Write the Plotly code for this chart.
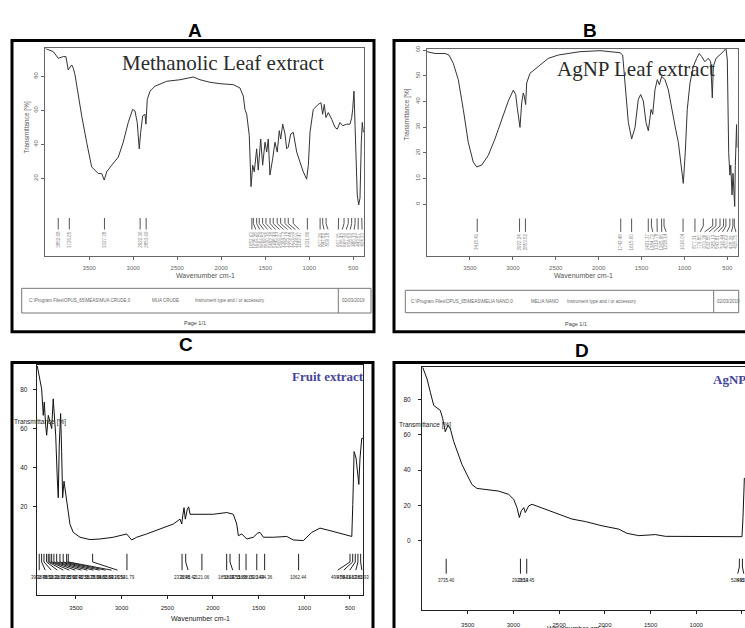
import plotly.graph_objects as go

W, H = 745, 628

# ---------------- data ----------------
a_wn = [4000, 3909, 3852, 3795, 3765, 3739, 3700, 3682, 3662, 3625, 3586, 3530, 3473, 3398, 3359, 3330, 3302, 3245,
        3170, 3114, 3057, 3007, 2981, 2955, 2932, 2916, 2893, 2867, 2856, 2841, 2810, 2753, 2620, 2469, 2318, 2242,
        2128, 2015, 1864, 1788, 1750, 1731, 1711, 1682, 1662, 1643, 1625, 1598, 1580, 1552, 1530, 1503, 1484, 1466,
        1447, 1416, 1390, 1364, 1341, 1325, 1302, 1276, 1257, 1239, 1211, 1182, 1143, 1106, 1068, 1030, 1011, 992,
        955, 898, 867, 848, 830, 811, 784, 746, 708, 682, 651, 620, 575, 538, 518, 507, 492, 480, 469, 455, 439, 424,
        409, 398, 386]
a_t = [96.4, 94.5, 90.6, 91.6, 91.6, 83.8, 86.7, 84.8, 80.9, 68.4, 56.8, 41.3, 26.8, 22.9, 22.9, 19.1, 23.9, 27.8,
       32.6, 41.3, 52.9, 60.6, 59.7, 52.9, 37.4, 47.1, 56.8, 57.7, 51.9, 66.4, 71.3, 74.2, 77.1, 78, 79.6, 78,
       76.5, 75.7, 75.1, 73.2, 68.4, 60.6, 57.7, 45.2, 15.2, 27.8, 23.9, 37.4, 24.9, 43.2, 27.8, 41.3, 35.5, 43.2,
       22, 31.6, 41.3, 35.5, 48.1, 43.2, 51.9, 46.1, 37.4, 38.4, 46.1, 47.1, 35.5, 29.7, 23.9, 19.6, 27.8, 47.1,
       60.6, 63.5, 64.5, 57.7, 63.5, 55.8, 58.7, 54.8, 50, 49, 52.9, 51, 51.9, 51.9, 55.8, 60.6, 71.3, 51, 31.6, 10.3,
       4.5, 8.4, 41.3, 52.9, 47.1]
a_peaks = [3852.68, 3726.65, 3327.38, 2922.36, 2853.69, 1652.63, 1635.28, 1597.89, 1568.52, 1530.36, 1492.18,
           1445.44, 1409.27, 1364.72, 1325.12, 1276.55, 1239.07, 1182.47, 1021.86, 877.26, 847.82, 809.18, 667.15,
           605.43, 557.26, 518.92, 480.13, 443.57, 404.33]

b_wn = [4000, 3908, 3791, 3745, 3695, 3636, 3578, 3520, 3462, 3422, 3364, 3287, 3209, 3130, 3053, 2995, 2967, 2949,
        2917, 2897, 2879, 2867, 2851, 2839, 2800, 2704, 2587, 2470, 2314, 2217, 1984, 1751, 1720, 1701, 1681, 1654,
        1615, 1576, 1538, 1510, 1479, 1448, 1421, 1401, 1389, 1370, 1343, 1316, 1292, 1265, 1227, 1188, 1149, 1110,
        1071, 1032, 1013, 990, 967, 935, 897, 857, 827, 799, 761, 722, 694, 675, 663, 632, 585, 547, 516, 500, 484,
        470, 460, 445, 434, 414, 407, 392, 386]
b_t = [59.4, 58.7, 58.7, 58.1, 54.9, 48.5, 36.9, 24.1, 16.4, 14.5, 15.2, 19, 25.4, 33.1, 40.2, 44.4, 42.7, 37.6,
       29.9, 39.5, 43.3, 42.1, 38.8, 47.2, 51, 53.6, 56.8, 58.1, 59, 59.4, 59.8, 59, 58.1, 51, 40.8, 31.8,
       25.4, 29.9, 40.8, 42.7, 40.2, 31.8, 28.6, 35.7, 36.9, 35, 44.6, 48.5, 46.5, 49.8, 48.5, 44.6, 36.9, 30.5,
       24.1, 13.8, 8.1, 20.3, 36.9, 47.2, 53.6, 56.8, 58.7, 57.5, 55.5, 56.8, 55.5, 41.4, 53.6, 56.8, 58.1, 59.4,
       60.7, 56.2, 20, 11.3, 15.2, 3.6, 12, -0.9, 15, 31, 22]
b_peaks = [3415.41, 2922.24, 2853.52, 1742.48, 1615.60, 1421.37, 1384.72, 1319.78, 1265.95, 1238.14, 1016.04,
           877.31, 779.80, 670.36, 632.55, 585.13, 543.81, 516.44, 470.62, 435.29, 418.75]

c_wn = [3924, 3902, 3876, 3858, 3847, 3832, 3821, 3803, 3785, 3766, 3749, 3738, 3722, 3705, 3694, 3683, 3668, 3657,
        3646, 3631, 3617, 3602, 3584, 3566, 3530, 3456, 3347, 3237, 3091, 2945, 2890, 2835, 2726, 2580, 2434, 2361,
        2342, 2331, 2317, 2303, 2281, 2266, 2251, 2142, 1996, 1849, 1777, 1740, 1722, 1685, 1630, 1558, 1514, 1485,
        1448, 1339, 1192, 1120, 1010, 918, 828, 718, 572, 480, 469, 455, 433, 419, 403, 390, 371, 354]
c_t = [92.2, 87.1, 80.4, 66.8, 73.6, 61.7, 56.6, 66.8, 63.5, 60, 75.3, 68.5, 56.6, 34.7, 24.5, 51.6, 67.7, 48.2,
       24.5, 33, 27.9, 21.1, 16, 10.9, 6.7, 4.2, 3, 3.3, 4.2, 5.9, 2.8, 4.2, 5.9, 8.4, 11, 13.5,
       11, 15.2, 19.4, 13.5, 18.6, 19.8, 16, 16, 16, 16.9, 16, 11, 5, 5.9, 3.3, 4.2, 6.2, 6.7,
       4.2, 4.2, 4.6, 2.8, 2.5, 6.7, 8.9, 7.6, 5.6, 4.6, 21.1, 48.2, 44.8, 38, 31.3, 44.8, 55, 55]
c_peaks = [3902.45, 3876.12, 3850.31, 3821.70, 3803.25, 3785.92, 3766.30, 3741.55, 3711.27, 3675.64, 3639.81,
           3602.13, 3584.36, 3317.52, 2941.79, 2338.45, 2298.42, 2121.06, 1850.04, 1813.55, 1711.88, 1638.09,
           1520.44, 1434.36, 1062.44, 499.56, 470.21, 441.87, 412.65, 382.93]

d_wn = [3992, 3945, 3909, 3872, 3836, 3800, 3774, 3745, 3716, 3690, 3653, 3617, 3562, 3508, 3453, 3398, 3307, 3161,
        3051, 2997, 2961, 2935, 2914, 2887, 2870, 2833, 2796, 2651, 2504, 2359, 2213, 2031, 1848, 1757, 1629, 1447,
        1338, 1082, 718, 500, 489, 474]
d_t = [98.4, 91.8, 84.3, 76.8, 75.3, 74, 69.3, 61.8, 65.5, 63.6, 56.2, 50.6, 43.1, 37.4, 31.8, 29.6, 29, 28.1,
       26.2, 23.4, 18.7, 13.1, 16.9, 18.7, 15.9, 19.7, 20.6, 17.8, 15, 12.2, 10.8, 8.4, 6.5, 4.1, 2.8, 3.4,
       2.4, 2.4, 2.2, 2.2, 13.1, 35.6]
d_peaks = [3735.40, 2923.13, 2854.45, 528.62, 495.18]

x_ticks = [3500, 3000, 2500, 2000, 1500, 1000, 500]
a_yticks = [20, 40, 60, 80]
b_yticks = [0, 10, 20, 30, 40, 50, 60]
c_yticks = [20, 40, 60, 80]
d_yticks = [0, 20, 40, 60, 80]

panel_letters = ["A", "B", "C", "D"]
panel_titles = ["Methanolic Leaf extract", "AgNP Leaf extract", "Fruit extract", "AgNPs"]
info_a = ["C:\\Program Files\\OPUS_65\\MEAS\\MUA CRUDE.0", "MUA CRUDE", "Instrument type and / or accessory", "02/03/2019"]
info_b = ["C:\\Program Files\\OPUS_65\\MEAS\\MELIA NANO.0", "MELIA NANO", "Instrument type and / or accessory", "02/03/2019"]

# ---------------- helpers ----------------
def fx(p):
    return p / W

def fy(p):
    return 1 - p / H

def spread(peaks, minsep, lo):
    pos = sorted(peaks, reverse=True)
    lab = pos[:]
    for i in range(1, len(lab)):
        if lab[i] > lab[i - 1] - minsep:
            lab[i] = lab[i - 1] - minsep
    if lab[-1] < lo:
        lab[-1] = lo
        for i in range(len(lab) - 2, -1, -1):
            if lab[i] < lab[i + 1] + minsep:
                lab[i] = lab[i + 1] + minsep
    return pos, lab

fig = go.Figure()
annotations = []
shapes = []

def add_peaks(peaks, minsep, lo, ys, lab_y, xa, ya, angle, color, lcolor, fsize):
    pos, lab = spread(peaks, minsep, lo)
    xs, yv = [], []
    for p, l in zip(pos, lab):
        xs += [p, p, l, None]
        yv += [ys[0], ys[1], ys[2], None]
    fig.add_trace(go.Scatter(x=xs, y=yv, mode="lines", line=dict(color=lcolor, width=1),
                             xaxis=xa, yaxis=ya, hoverinfo="skip"))
    for p, l in zip(pos, lab):
        annotations.append(dict(x=l, y=lab_y, xref=xa, yref=ya, text="%.2f" % p, showarrow=False,
                                xanchor="center", yanchor="middle",
                                textangle=angle, font=dict(size=fsize, color=color, family="Liberation Sans")))

# spectra
fig.add_trace(go.Scatter(x=a_wn, y=a_t, mode="lines", line=dict(color="#333333", width=1), xaxis="x", yaxis="y"))
fig.add_trace(go.Scatter(x=b_wn, y=b_t, mode="lines", line=dict(color="#333333", width=1), xaxis="x2", yaxis="y2"))
fig.add_trace(go.Scatter(x=c_wn, y=c_t, mode="lines", line=dict(color="#111111", width=1), xaxis="x3", yaxis="y3"))
fig.add_trace(go.Scatter(x=d_wn, y=d_t, mode="lines", line=dict(color="#111111", width=1), xaxis="x4", yaxis="y4"))

add_peaks(a_peaks, 45, 400, (-3.2, -6.5, -10), -15.9, "x", "y", -90, "#8a8a8a", "#555555", 4.5)
add_peaks(b_peaks, 52, 400, (-5.6, -8.5, -10.8), -14.7, "x2", "y2", -90, "#8a8a8a", "#555555", 4.5)
add_peaks(c_peaks, 66, 370, (-4.3, -8.5, -12.7), -16.4, "x3", "y3", 0, "#222222", "#222222", 4.5)
add_peaks(d_peaks, 66, 480, (-10.3, -15, -18.8), -22.5, "x4", "y4", 0, "#222222", "#222222", 4.5)

def xaxis(d0, d1, rng, anchor, color, fsize, standoff, mirror=True):
    return dict(domain=[fx(d0), fx(d1)], range=rng, anchor=anchor, tickvals=x_ticks, ticks="outside",
                ticklen=3, tickcolor=color, showline=True, linecolor=color, linewidth=1, mirror=mirror,
                showgrid=False, zeroline=False, ticklabelstandoff=standoff,
                tickfont=dict(size=fsize, color=color, family="Liberation Sans"))

def yaxis(t0, t1, rng, anchor, tickvals, color, fsize, angle, standoff, mirror=True):
    return dict(domain=[fy(t1), fy(t0)], range=rng, anchor=anchor, tickvals=tickvals, ticks="outside",
                ticklen=3, tickcolor=color, showline=True, linecolor=color, linewidth=1, mirror=mirror,
                showgrid=False, zeroline=False, tickangle=angle, ticklabelstandoff=standoff,
                tickfont=dict(size=fsize, color=color, family="Liberation Sans"))

layout = dict(
    width=W, height=H, margin=dict(l=0, r=0, t=0, b=0), paper_bgcolor="white", plot_bgcolor="white",
    showlegend=False,
    xaxis=xaxis(45, 364.3, [4003, 375], "y", "#666666", 6, 3),
    yaxis=yaxis(45, 255, [-25.4, 96.4], "x", a_yticks, "#666666", 6, -90, 1),
    xaxis2=xaxis(427, 737.7, [4001, 379], "y2", "#666666", 6, 3),
    yaxis2=yaxis(45.7, 255, [-20.1, 60.4], "x2", b_yticks, "#666666", 6, -90, 1),
    xaxis3=xaxis(36.7, 363.3, [3930, 354], "y3", "#222222", 6, 4),
    yaxis3=yaxis(366, 598.3, [-25.3, 92.5], "x3", c_yticks, "#222222", 6.5, 0, 4),
    xaxis4=xaxis(422, 745, [4000, 467], "y4", "#222222", 6, 5),
    yaxis4=yaxis(368, 614.3, [-39.7, 98.4], "x4", d_yticks, "#222222", 6.5, 0, 6, mirror=False),
)

# outer thick frames
for (x0, y0, x1, y1) in [(12, 37, 374, 332), (394, 37, 760, 332), (12, 363, 373, 650), (394, 363, 760, 650)]:
    shapes.append(dict(type="rect", xref="paper", yref="paper", x0=fx(x0), x1=fx(x1), y0=fy(y1), y1=fy(y0),
                       line=dict(color="black", width=3)))

# info boxes
for (x0, x1, xd, y0, y1, info, tx) in [(21.7, 371, 338.3, 288, 313, info_a, [26.7, 150, 193, 340]),
                                       (405.3, 738.7, 713.7, 290, 312.7, info_b, [408.7, 528.7, 565.3, 715.3])]:
    shapes.append(dict(type="rect", xref="paper", yref="paper", x0=fx(x0), x1=fx(x1), y0=fy(y1), y1=fy(y0),
                       line=dict(color="#777777", width=1)))
    shapes.append(dict(type="line", xref="paper", yref="paper", x0=fx(xd), x1=fx(xd), y0=fy(y1), y1=fy(y0),
                       line=dict(color="#777777", width=1)))
    for t, xx in zip(info, tx):
        annotations.append(dict(x=fx(xx), y=fy((y0 + y1) / 2), xref="paper", yref="paper", text=t,
                                showarrow=False, xanchor="left", yanchor="middle",
                                font=dict(size=4.5, color="#666666", family="Liberation Sans")))

def text(x, y, t, size, color, family, bold=False, angle=0, xanchor="center"):
    annotations.append(dict(x=fx(x), y=fy(y), xref="paper", yref="paper", text=("<b>%s</b>" % t) if bold else t,
                            showarrow=False, textangle=angle, xanchor=xanchor, yanchor="middle",
                            font=dict(size=size, color=color, family=family)))

# panel letters
for (x, y), t in zip([(195, 27), (590, 27), (186, 345), (582, 351)], panel_letters):
    text(x, y, t, 19, "black", "Liberation Sans", bold=True)

# overlay titles
text(222.5, 60, panel_titles[0], 21, "#2b2b2b", "Liberation Serif")
text(636, 66, panel_titles[1], 21, "#2b2b2b", "Liberation Serif")
text(327.5, 377, panel_titles[2], 13, "#45459a", "Liberation Serif", bold=True)
text(711, 380, panel_titles[3], 13, "#45459a", "Liberation Serif", bold=True, xanchor="left")

# axis titles
text(27, 125, "Transmittance [%]", 6.5, "#555555", "Liberation Sans", angle=-90)
text(407, 112, "Transmittance [%]", 6.5, "#555555", "Liberation Sans", angle=-90)
text(40, 423.5, "Transmittance [%]", 6.5, "#222222", "Liberation Sans")
text(424.5, 426, "Transmittance [%]", 6.5, "#222222", "Liberation Sans")
text(205, 275, "Wavenumber cm-1", 7, "#555555", "Liberation Sans")
text(583.5, 275.5, "Wavenumber cm-1", 7, "#555555", "Liberation Sans")
text(200, 622.5, "Wavenumber cm-1", 7, "#222222", "Liberation Sans")
text(576, 633, "Wavenumber cm-1", 7, "#222222", "Liberation Sans")

# page footers
text(195, 323.5, "Page 1/1", 5.5, "#444444", "Liberation Sans")
text(576, 324.5, "Page 1/1", 5.5, "#444444", "Liberation Sans")

layout["annotations"] = annotations
layout["shapes"] = shapes
fig.update_layout(**layout)
fig.write_html("out.html")
